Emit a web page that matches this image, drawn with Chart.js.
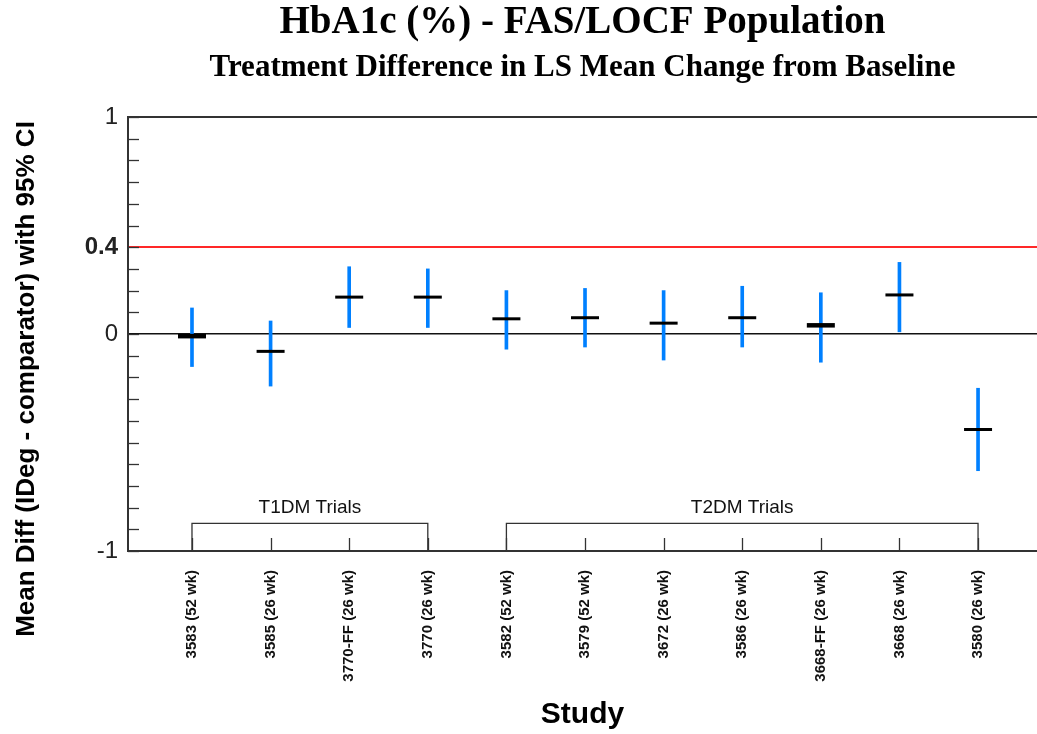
<!DOCTYPE html>
<html>
<head>
<meta charset="utf-8">
<title>HbA1c treatment difference</title>
<script src="https://cdn.jsdelivr.net/npm/chart.js@4.4.1/dist/chart.umd.min.js"></script>
<style>
  html, body { margin: 0; padding: 0; background: #fff; overflow: hidden; }
  #wrap { width: 1037px; height: 734px; position: relative; }
</style>
</head>
<body>
<div id="wrap"><canvas id="myChart"></canvas></div>
<script>
// studies (x categories)
var studies = ['3583 (52 wk)', '3585 (26 wk)', '3770-FF (26 wk)', '3770 (26 wk)', '3582 (52 wk)',
  '3579 (52 wk)', '3672 (26 wk)', '3586 (26 wk)', '3668-FF (26 wk)', '3668 (26 wk)', '3580 (26 wk)'];
var meanDiff = [-0.01, -0.08, 0.17, 0.17, 0.07, 0.075, 0.05, 0.075, 0.04, 0.18, -0.44];
var ciLower  = [-0.15, -0.24, 0.03, 0.03, -0.07, -0.06, -0.12, -0.06, -0.13, 0.01, -0.63];
var ciUpper  = [0.12, 0.06, 0.31, 0.30, 0.20, 0.21, 0.20, 0.22, 0.19, 0.33, -0.25];

// y tick labels that are shown
var yTickLabels = [1, 0.4, 0, -1];
var margin = 0.4;

// trial groups (brackets under the points)
var groupNames = ['T1DM Trials', 'T2DM Trials'];
var groupFirst = [1, 5];
var groupLast = [4, 11];
var bracketLevel = -0.873;
var groupLabelLevel = -0.80;

var ctx1 = document.getElementById('myChart');

var ciData = studies.map(function (s, i) { return { x: i + 1, y: [ciLower[i], ciUpper[i]] }; });
var meanData = studies.map(function (s, i) { return { x: i + 1, y: meanDiff[i] }; });

var bracketSets = groupNames.map(function (g, k) {
  return {
    type: 'line',
    label: g,
    data: [
      { x: groupFirst[k], y: -1 },
      { x: groupFirst[k], y: bracketLevel },
      { x: groupLast[k], y: bracketLevel },
      { x: groupLast[k], y: -1 }
    ],
    borderColor: '#333',
    borderWidth: 1.3,
    pointRadius: 0,
    tension: 0,
    order: 3
  };
});

function near(a, b) { return Math.abs(a - b) < 1e-6; }

// the two studies drawn heavier in the original
function isHeavy(i) { return i === 0 || i === 8; }

const extras = {
  id: 'extras',
  afterDraw: function (chart) {
    var c = chart.ctx, a = chart.chartArea;
    var xs = chart.scales.x, ys = chart.scales.y;
    c.save();
    // top frame line
    c.strokeStyle = '#333';
    c.lineWidth = 2;
    c.beginPath();
    c.moveTo(a.left, a.top);
    c.lineTo(a.right, a.top);
    c.stroke();
    // inner ticks on y
    c.lineWidth = 1.3;
    ys.ticks.forEach(function (t) {
      var py = Math.round(ys.getPixelForValue(t.value)) + 0.5;
      c.beginPath();
      c.moveTo(a.left, py);
      c.lineTo(a.left + 11, py);
      c.stroke();
    });
    // inner ticks on x
    studies.forEach(function (s, i) {
      var px = Math.round(xs.getPixelForValue(i + 1)) + 0.5;
      c.beginPath();
      c.moveTo(px, a.bottom);
      c.lineTo(px, a.bottom - 13);
      c.stroke();
    });
    // group labels
    c.fillStyle = '#111';
    c.font = '19px "Liberation Sans", Arial, sans-serif';
    c.textAlign = 'center';
    c.textBaseline = 'middle';
    groupNames.forEach(function (g, k) {
      var px = xs.getPixelForValue((groupFirst[k] + groupLast[k]) / 2);
      c.fillText(g, px, ys.getPixelForValue(groupLabelLevel));
    });
    // y axis title
    c.translate(27, 379);
    c.rotate(-Math.PI / 2);
    c.font = 'bold 26px "Liberation Sans", Arial, sans-serif';
    c.fillStyle = '#000';
    c.fillText('Mean Diff (IDeg - comparator) with 95% CI', 0, 0);
    c.restore();
  }
};

const config = {
  type: 'bar',
  data: {
    datasets: [
      {
        type: 'scatter',
        label: 'Mean',
        data: meanData,
        pointStyle: 'line',
        pointRadius: 14,
        pointHoverRadius: 14,
        borderColor: '#000',
        backgroundColor: '#000',
        pointBorderWidth: function (c) { return isHeavy(c.dataIndex) ? 4.5 : 3; },
        order: 0
      },
      {
        type: 'bar',
        label: '95% CI',
        data: ciData,
        backgroundColor: 'rgb(0,128,255)',
        barThickness: function (c) { return isHeavy(c.dataIndex) ? 4.5 : 3; },
        borderWidth: 0,
        borderSkipped: false,
        order: 1
      }
    ].concat(bracketSets)
  },
  options: {
    responsive: true,
    maintainAspectRatio: false,
    animation: false,
    layout: { padding: 0, autoPadding: false },
    plugins: {
      legend: { display: false },
      tooltip: { enabled: false },
      title: {
        display: true,
        fullSize: false,
        text: 'HbA1c (%) - FAS/LOCF Population',
        color: '#000',
        font: { family: '"Liberation Serif", "Times New Roman", serif', size: 39, weight: 'bold', lineHeight: 1 },
        padding: { top: 3, bottom: 0 }
      },
      subtitle: {
        display: true,
        fullSize: false,
        text: 'Treatment Difference in LS Mean Change from Baseline',
        color: '#000',
        font: { family: '"Liberation Serif", "Times New Roman", serif', size: 31, weight: 'bold', lineHeight: 1 },
        padding: { top: 10.5, bottom: 33.5 }
      }
    },
    scales: {
      x: {
        type: 'linear',
        min: 0.186,
        max: 11.75,
        offset: false,
        afterFit: function (s) {
          s.height = 183;
          s.paddingLeft = 0;
          s.paddingRight = 0;
        },
        afterBuildTicks: function (s) {
          s.ticks = studies.map(function (n, i) { return { value: i + 1 }; });
        },
        grid: { display: false, drawTicks: false },
        border: { display: true, color: '#333', width: 2 },
        ticks: {
          autoSkip: false,
          minRotation: 90,
          maxRotation: 90,
          padding: 19,
          color: '#111',
          font: { family: '"Liberation Sans", Arial, sans-serif', size: 15, weight: 'bold' },
          callback: function (v) { return studies[v - 1] || ''; }
        },
        title: {
          display: true,
          text: 'Study',
          color: '#000',
          font: { family: '"Liberation Sans", Arial, sans-serif', size: 30, weight: 'bold', lineHeight: 1.2 },
          padding: { top: 0, bottom: 1 }
        }
      },
      y: {
        min: -1,
        max: 1,
        afterFit: function (s) {
          s.width = 128;
          s.paddingTop = 0;
          s.paddingBottom = 0;
        },
        ticks: {
          stepSize: 0.1,
          autoSkip: false,
          padding: 10,
          color: '#222',
          font: function (c) {
            var v = c.tick ? c.tick.value : null;
            return { family: '"Liberation Sans", Arial, sans-serif', size: 24, weight: (v !== null && near(v, margin)) ? 'bold' : 'normal' };
          },
          callback: function (v) {
            for (var i = 0; i < yTickLabels.length; i++) {
              if (near(v, yTickLabels[i])) return String(yTickLabels[i]);
            }
            return '';
          }
        },
        grid: {
          drawTicks: false,
          lineWidth: function (c) {
            return (c.tick && near(c.tick.value, margin)) ? 2 : 1.5;
          },
          color: function (c) {
            if (!c.tick) return 'rgba(0,0,0,0)';
            if (near(c.tick.value, margin)) return 'rgb(255,40,40)';
            if (near(c.tick.value, 0)) return '#111';
            return 'rgba(0,0,0,0)';
          }
        },
        border: { display: true, color: '#333', width: 2 }
      }
    }
  },
  plugins: [extras]
};

const myChart = new Chart(ctx1, config);
</script>
</body>
</html>
